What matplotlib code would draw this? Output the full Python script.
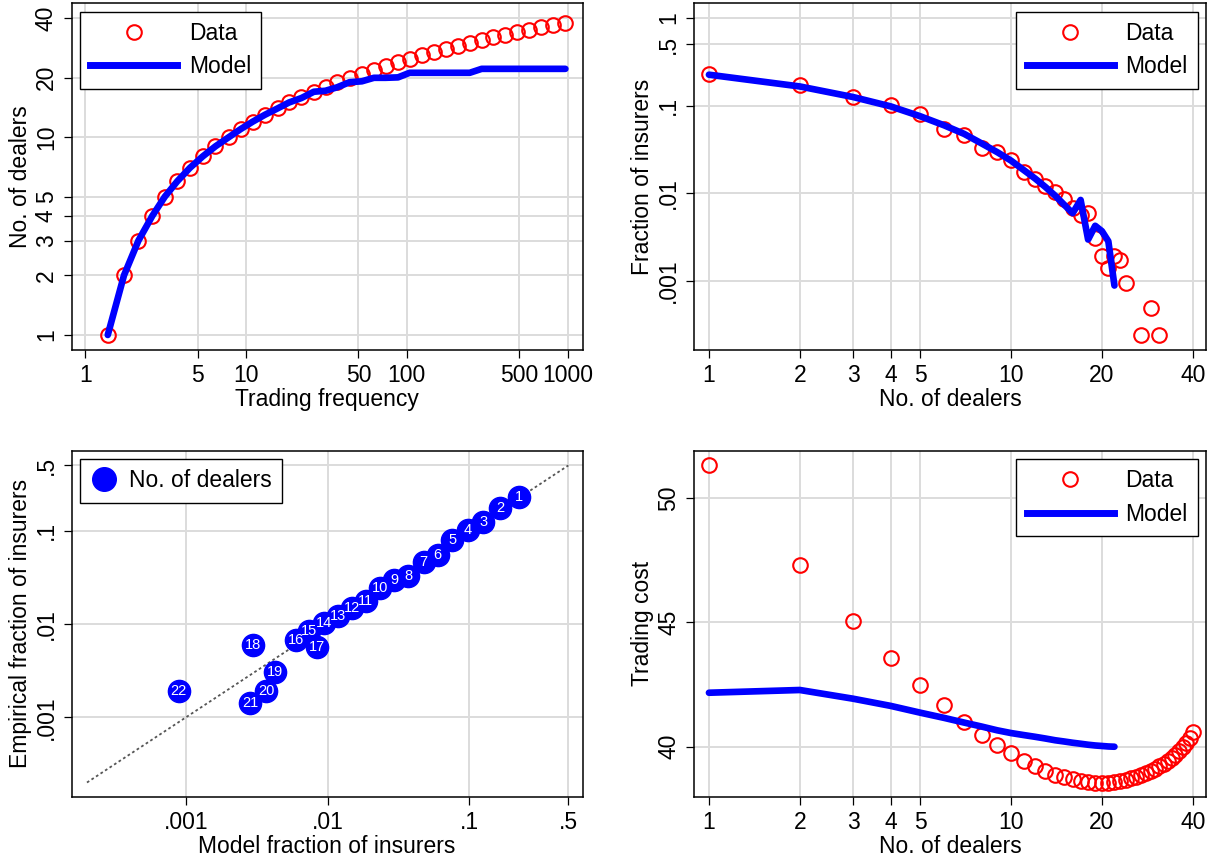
import matplotlib

matplotlib.use("Agg")
import matplotlib.pyplot as plt
from matplotlib.lines import Line2D
from matplotlib.ticker import FixedLocator, FixedFormatter, NullLocator

plt.rcParams["font.family"] = ["Liberation Sans", "DejaVu Sans"]

RED = "#ff0000"
BLUE = "#0000ff"
GRID = "#dcdcdc"
FS = 16.5

# --- panel 1: trading frequency vs no. of dealers ---
freq = [1.38, 1.74, 2.14, 2.61, 3.12, 3.74, 4.47, 5.37, 6.45, 7.79, 9.25, 11.0,
        13.1, 15.7, 18.5, 22.1, 26.4, 31.2, 36.8, 44.0, 52.5, 62.4, 73.7, 88.1,
        104, 125, 147, 174, 208, 246, 292, 345, 407, 486, 574, 686, 814, 968]
dealers_data = list(range(1, 39))
dealers_model = [1, 2, 3, 4, 5, 6, 7, 8, 9, 10, 11, 12, 13, 14, 15, 15.8, 17.0,
                 17.2, 17.9, 19.0, 19.2, 20.0, 20.0, 20.1, 21.2, 21.2, 21.2,
                 21.2, 21.2, 21.2, 22.2, 22.2, 22.2, 22.2, 22.2, 22.2, 22.2, 22.2]

# --- panels 2/3: fraction of insurers by no. of dealers ---
n_model = list(range(1, 23))
model_frac = [0.2254, 0.1655, 0.1254, 0.098, 0.0758, 0.0597, 0.0476, 0.037,
              0.0295, 0.0236, 0.0185, 0.0148, 0.0118, 0.0094, 0.0074, 0.00593,
              0.0084, 0.00297, 0.00426, 0.0037, 0.00284, 0.000887]
emp_frac = [0.231, 0.173, 0.124, 0.1016, 0.0794, 0.0548, 0.0466, 0.0327,
            0.0296, 0.0241, 0.0176, 0.0147, 0.0122, 0.0103, 0.0085, 0.0068,
            0.00571, 0.00601, 0.00308, 0.00193, 0.00141, 0.00193]
n_data = list(range(1, 25)) + [27, 29, 31]
data_frac = emp_frac + [0.00174, 0.00096, 0.000242, 0.00049, 0.000242]

# --- panel 4: trading cost ---
n_cost = list(range(1, 41))
cost_data = [51.32, 47.29, 45.05, 43.58, 42.50, 41.67, 41.01, 40.49, 40.08,
             39.75, 39.44, 39.21, 39.03, 38.88, 38.78, 38.70, 38.62, 38.58,
             38.55, 38.54, 38.55, 38.58, 38.62, 38.67, 38.73, 38.79, 38.86,
             38.93, 39.02, 39.12, 39.21, 39.32, 39.44, 39.56, 39.68, 39.83,
             39.97, 40.13, 40.34, 40.60]
cost_model = [42.17, 42.28, 41.93, 41.64, 41.37, 41.16, 40.97, 40.81, 40.66,
              40.55, 40.47, 40.40, 40.33, 40.26, 40.21, 40.16, 40.12, 40.08,
              40.05, 40.03, 40.01, 40.0]

dealer_ticks = [1, 2, 3, 4, 5, 10, 20, 40]
frac_ticks = [0.001, 0.01, 0.1, 0.5, 1]
frac_labels = [".001", ".01", ".1", ".5", "1"]


def style(ax, xticks, xlabels, yticks, ylabels):
    ax.xaxis.set_major_locator(FixedLocator(xticks))
    ax.xaxis.set_major_formatter(FixedFormatter(xlabels))
    ax.yaxis.set_major_locator(FixedLocator(yticks))
    ax.yaxis.set_major_formatter(FixedFormatter(ylabels))
    ax.xaxis.set_minor_locator(NullLocator())
    ax.yaxis.set_minor_locator(NullLocator())
    ax.grid(True, color=GRID, lw=1.4)
    ax.set_axisbelow(True)
    ax.tick_params(length=6, width=0.9, labelsize=FS, pad=4)
    ax.tick_params(axis="y", labelrotation=90)
    for lab in ax.get_yticklabels():
        lab.set_va("center")
    for s in ax.spines.values():
        s.set_linewidth(1.1)


def legend(ax, loc, handles, labels, hl=3.8):
    lg = ax.legend(handles, labels, loc=loc, fontsize=FS, frameon=True,
                   fancybox=False, edgecolor="black", framealpha=1,
                   handlelength=hl, handletextpad=0.5, borderpad=0.45,
                   labelspacing=0.45, borderaxespad=0.36)
    lg.get_frame().set_linewidth(1.0)


data_h = Line2D([], [], ls="", marker="o", ms=10.5, mfc="none", mec=RED, mew=1.5)
model_h = Line2D([], [], color=BLUE, lw=5)

fig = plt.figure(figsize=(12.19, 8.63), dpi=100)
ax1 = fig.add_axes([0.0588, 0.5944, 0.4191, 0.4017])
ax2 = fig.add_axes([0.5694, 0.5944, 0.4199, 0.4017])
ax3 = fig.add_axes([0.0588, 0.0765, 0.4191, 0.4013])
ax4 = fig.add_axes([0.5694, 0.0765, 0.4199, 0.4013])

# panel 1
ax1.set_xscale("log")
ax1.set_yscale("log")
ax1.plot(freq, dealers_data, ls="", marker="o", ms=10.5, mfc="none", mec=RED, mew=1.5)
ax1.plot(freq, dealers_model, color=BLUE, lw=4.8, solid_capstyle="round",
         solid_joinstyle="round")
ax1.set_xlim(0.823, 1238)
ax1.set_ylim(0.839, 47.6)
style(ax1, [1, 5, 10, 50, 100, 500, 1000], ["1", "5", "10", "50", "100", "500", "1000"],
      [1, 2, 3, 4, 5, 10, 20, 40], ["1", "2", "3", "4", "5", "10", "20", "40"])
ax1.set_xlabel("Trading frequency", fontsize=FS, labelpad=1)
ax1.set_ylabel("No. of dealers", fontsize=FS, labelpad=2)
legend(ax1, "upper left", [data_h, model_h], ["Data", "Model"])

# panel 2
ax2.set_xscale("log")
ax2.set_yscale("log")
ax2.plot(n_data, data_frac, ls="", marker="o", ms=10.5, mfc="none", mec=RED, mew=1.5)
ax2.plot(n_model, model_frac, color=BLUE, lw=4.8, solid_capstyle="round",
         solid_joinstyle="round")
ax2.set_xlim(0.893, 44.2)
ax2.set_ylim(1.63e-4, 1.468)
style(ax2, dealer_ticks, [str(t) for t in dealer_ticks], frac_ticks, frac_labels)
ax2.set_xlabel("No. of dealers", fontsize=FS, labelpad=1)
ax2.set_ylabel("Fraction of insurers", fontsize=FS, labelpad=2)
legend(ax2, "upper right", [data_h, model_h], ["Data", "Model"])

# panel 3
ax3.set_xscale("log")
ax3.set_yscale("log")
ax3.plot([0.0002, 0.5], [0.0002, 0.5], color="#555555", lw=1.3,
         ls=(0, (1.5, 1.5)), zorder=2)
ax3.plot(model_frac, emp_frac, ls="", marker="o", ms=16, color=BLUE, zorder=3)
for n, mx, ey in zip(n_model, model_frac, emp_frac):
    ax3.text(mx, ey, str(n), color="white", fontsize=10.5, ha="center",
             va="center", zorder=4)
ax3.set_xlim(1.56e-4, 0.63)
ax3.set_ylim(1.4e-4, 0.72)
style(ax3, frac_ticks[:4], frac_labels[:4], frac_ticks[:4], frac_labels[:4])
ax3.set_xlabel("Model fraction of insurers", fontsize=FS, labelpad=1)
ax3.set_ylabel("Empirical fraction of insurers", fontsize=FS, labelpad=2)
dealers_h = Line2D([], [], ls="", marker="o", ms=17, color=BLUE)
legend(ax3, "upper left", [dealers_h], ["No. of dealers"], hl=1.2)

# panel 4
ax4.set_xscale("log")
ax4.plot(n_cost, cost_data, ls="", marker="o", ms=10.5, mfc="none", mec=RED, mew=1.5)
ax4.plot(n_model, cost_model, color=BLUE, lw=4.8, solid_capstyle="round",
         solid_joinstyle="round")
ax4.set_xlim(0.893, 44.2)
ax4.set_ylim(37.98, 51.9)
style(ax4, dealer_ticks, [str(t) for t in dealer_ticks], [40, 45, 50], ["40", "45", "50"])
ax4.set_xlabel("No. of dealers", fontsize=FS, labelpad=1)
ax4.set_ylabel("Trading cost", fontsize=FS, labelpad=2)
legend(ax4, "upper right", [data_h, model_h], ["Data", "Model"])

fig.savefig("out.png", dpi=100)
